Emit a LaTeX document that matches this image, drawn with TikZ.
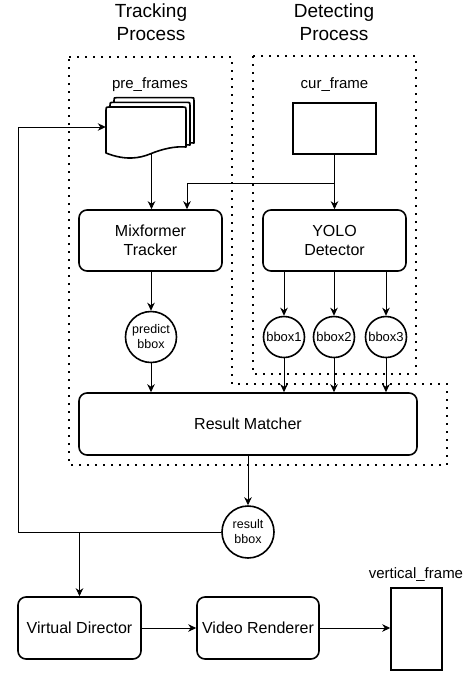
\documentclass[tikz,border=0pt]{standalone}
\usepackage{fontspec}
\setmainfont{Liberation Sans}
\usetikzlibrary{arrows.meta}
\tikzset{
  procbox/.style={draw, line width=1.6pt, rounded corners=8pt, align=center, inner sep=0pt, font=\fontsize{16}{19.2}\selectfont},
  bcirc/.style={draw, circle, line width=1.6pt, inner sep=0pt, align=center},
  arr/.style={-{Stealth[length=8pt,width=7.5pt,inset=2.5pt]}, line width=0.9pt},
  conn/.style={line width=0.9pt},
  region/.style={line width=2pt, dash pattern=on 2pt off 6pt},
  docsheet/.style={draw, line width=1.6pt, fill=white, line join=round},
  lbl/.style={inner sep=0pt, anchor=base, font=\fontsize{15}{18}\selectfont},
  ttl/.style={inner sep=0pt, align=center, font=\fontsize{19}{22.8}\selectfont},
}
\begin{document}
\begin{tikzpicture}[x=1pt,y=-1pt]
\useasboundingbox (0,0) rectangle (474,673);

% regions
\draw[region] (69,57) -- (232,57) -- (232,384) -- (447,384) -- (447,465) -- (69,465) -- cycle;
\draw[region] (253,56) rectangle (416,374);

% titles
\node[ttl] (ttrack) at (151,22) {Tracking\\Process};
\node[ttl] (tdetect) at (334,22) {Detecting\\Process};

% labels
\node[lbl] (lpre) at (150,88) {pre\_frames};
\node[lbl] (lcur) at (334.5,88) {cur\_frame};
\node[lbl] (lvert) at (416,578) {vertical\_frame};

% pre_frames multi-document
\draw[docsheet] (194,143) .. controls (183,142) and (170,145) .. (158,150) .. controls (148,154) and (134,157) .. (114,149) -- (114,100.6) .. controls (114,97.6) .. (117,97.6) -- (191,97.6) .. controls (194,97.6) .. (194,100.6) -- cycle;
\draw[docsheet] (190,145) .. controls (179,144) and (166,147) .. (154,152) .. controls (144,156) and (130,159) .. (110,151) -- (110,105.3) .. controls (110,102.3) .. (113,102.3) -- (187,102.3) .. controls (190,102.3) .. (190,105.3) -- cycle;
\draw[docsheet] (186,147) .. controls (175,146) and (162,149) .. (150,154) .. controls (140,158) and (126,161) .. (106,153) -- (106,110) .. controls (106,107) .. (109,107) -- (183,107) .. controls (186,107) .. (186,110) -- cycle;
\node[inner sep=0pt, minimum width=80pt, minimum height=46pt] (pre) at (146,130) {};
\coordinate (preout) at (151.5,154);

% cur_frame
\node[draw, line width=1.6pt, minimum width=83pt, minimum height=51pt, inner sep=0pt] (cur) at (334.5,128.5) {};

% processing boxes
\node[procbox, minimum width=143pt, minimum height=61pt] (mix) at (150.5,240.5) {Mixformer\\Tracker};
\node[procbox, minimum width=143pt, minimum height=61pt] (yolo) at (334.5,240.5) {YOLO\\Detector};

% circles
\node[bcirc, minimum size=51pt, font=\fontsize{12.5}{15}\selectfont] (pred) at (151,337) {predict\\bbox};
\node[bcirc, minimum size=41pt, font=\fontsize{13}{15.6}\selectfont] (b1) at (284,337) {bbox1};
\node[bcirc, minimum size=41pt, font=\fontsize{13}{15.6}\selectfont] (b2) at (334,337) {bbox2};
\node[bcirc, minimum size=41pt, font=\fontsize{13}{15.6}\selectfont] (b3) at (386,337) {bbox3};

\node[procbox, minimum width=338pt, minimum height=62pt] (match) at (248,424) {Result Matcher};
\node[bcirc, minimum size=52pt, font=\fontsize{12.5}{15}\selectfont] (res) at (248,532) {result\\bbox};

\node[procbox, minimum width=123pt, minimum height=62pt] (vd) at (79.5,628) {Virtual Director};
\node[procbox, minimum width=122pt, minimum height=62pt] (vr) at (258,628) {Video Renderer};
\node[draw, line width=1.6pt, minimum width=51pt, minimum height=82pt, inner sep=0pt] (vf) at (416.5,629) {};

% connectors
\draw[arr] (preout) -- (preout |- mix.north);
\draw[arr] (cur.south) -- (yolo.north);
\coordinate (branch) at (334.5,183);
\coordinate (mixin) at (187,183);
\draw[arr] (branch) -- (mixin) -- (mixin |- mix.north);

\draw[arr] (mix.south -| pred) -- (pred.north);
\draw[arr] (yolo.south -| b1) -- (b1.north);
\draw[arr] (yolo.south -| b2) -- (b2.north);
\draw[arr] (yolo.south -| b3) -- (b3.north);

\draw[arr] (pred.south) -- (pred.south |- match.north);
\draw[arr] (b1.south) -- (b1.south |- match.north);
\draw[arr] (b2.south) -- (b2.south |- match.north);
\draw[arr] (b3.south) -- (b3.south |- match.north);

\draw[arr] (match.south -| res) -- (res.north);

\coordinate (fbl) at (18,532);
\coordinate (fbt) at (18,127);
\draw[arr] (res.west) -- (fbl) -- (fbt) -- (pre.west |- fbt);
\coordinate (vdbranch) at (79.5,532);
\draw[arr] (vdbranch) -- (vd.north);

\draw[arr] (vd.east) -- (vr.west);
\draw[arr] (vr.east) -- (vf.west |- vr.east);
\end{tikzpicture}
\end{document}
